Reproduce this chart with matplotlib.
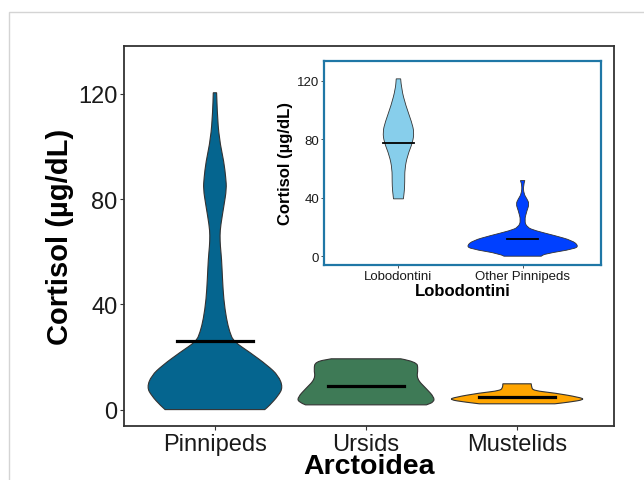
import matplotlib.pyplot as plt
import numpy as np
from matplotlib.path import Path
from matplotlib.patches import PathPatch, Rectangle

plt.rcParams['font.family'] = ['Liberation Sans', 'DejaVu Sans']

# main panel: violin outlines as (cortisol level, half width) profiles
groups = ['Pinnipeds', 'Ursids', 'Mustelids']
colors = ['#05658f', '#3e7a56', '#ffa500']
medians = [25.9, 8.9, 4.8]

pinn_y = [0, 1.5, 5.3, 8.5, 12.9, 16.7, 21.8, 25.9, 29.4, 34.5, 42, 49.7, 57.3,
          62, 66.2, 70, 77.6, 83.9, 88, 94, 103, 113, 120.4]
pinn_w = [0.33, 0.36, 0.42, 0.45, 0.42, 0.35, 0.23, 0.124, 0.098, 0.076, 0.058, 0.05, 0.044,
          0.036, 0.033, 0.038, 0.06, 0.077, 0.072, 0.06, 0.028, 0.015, 0.011]
urs_y = [1.8, 2.9, 4.8, 7.9, 11.7, 15.5, 18.2, 19.3]
urs_w = [0.40, 0.45, 0.45, 0.40, 0.335, 0.345, 0.335, 0.23]
must_y = [2.2, 2.8, 3.8, 4.7, 6.3, 7.2, 8.5, 9.8]
must_w = [0.25, 0.34, 0.45, 0.41, 0.25, 0.11, 0.095, 0.094]
profiles = [(pinn_y, pinn_w), (urs_y, urs_w), (must_y, must_w)]

# inset panel
sub_groups = ['Lobodontini', 'Other Pinnipeds']
sub_colors = ['#87ceeb', '#0040ff']
sub_medians = [77.4, 11.6]
lobo_y = [39.2, 45, 50.6, 59.7, 68.8, 77.9, 84.8, 91.6, 103, 114.4, 121.2]
lobo_w = [0.04, 0.048, 0.051, 0.051, 0.073, 0.115, 0.126, 0.107, 0.059, 0.024, 0.018]
oth_y = [0, 1.6, 5, 7.2, 10.7, 14.1, 17.5, 19.8, 24.3, 31.2, 35.7, 39.2, 42.6, 48.3, 51.7]
oth_w = [0.15, 0.18, 0.42, 0.45, 0.4, 0.26, 0.1, 0.035, 0.014, 0.035, 0.054, 0.035, 0.01, 0.005, 0.018]
sub_profiles = [(lobo_y, lobo_w), (oth_y, oth_w)]


def smooth_side(pts):
    # quadratic bezier through midpoints, keeps end points
    verts, codes = [], []
    verts.append((pts[0] + pts[1]) / 2); codes.append(Path.LINETO)
    for i in range(1, len(pts) - 1):
        verts.append(pts[i]); codes.append(Path.CURVE3)
        end = pts[i + 1] if i == len(pts) - 2 else (pts[i] + pts[i + 1]) / 2
        verts.append(end); codes.append(Path.CURVE3)
    return verts, codes


def violin(ax, pos, y, w, color, lw=0.8):
    y = np.asarray(y, float)
    w = np.asarray(w, float)
    right = np.column_stack([pos + w, y])
    left = np.column_stack([pos - w, y])[::-1]
    verts = [left[-1], right[0]]
    codes = [Path.MOVETO, Path.LINETO]
    v, c = smooth_side(right)
    verts += v; codes += c
    verts.append(left[0]); codes.append(Path.LINETO)
    v, c = smooth_side(left)
    verts += v; codes += c
    verts.append(left[-1]); codes.append(Path.CLOSEPOLY)
    ax.add_patch(PathPatch(Path(verts, codes), facecolor=color,
                           edgecolor='#333333', lw=lw, zorder=2))


fig = plt.figure(figsize=(6.44, 4.81), dpi=100)
fig.patches.append(Rectangle((9 / 644, -0.1), 1.2, 1.1 - 13 / 481, transform=fig.transFigure,
                             fill=False, edgecolor='#d4d4d4', lw=1))

ax = fig.add_axes([0.193, 0.113, 0.760, 0.790])
for i, (y, w) in enumerate(profiles):
    violin(ax, i + 1, y, w, colors[i])
    ax.plot([i + 1 - 0.25, i + 1 + 0.25], [medians[i]] * 2, color='black', lw=2.3, zorder=3)
ax.set_xlim(0.4, 3.64)
ax.set_ylim(-6.1, 138.3)
ax.set_xticks([1, 2, 3])
ax.set_xticklabels(groups)
ax.set_yticks([0, 40, 80, 120])
ax.tick_params(length=3, width=0.8, color='#333333', labelsize=17, pad=2, labelcolor='#1a1a1a')
for s in ax.spines.values():
    s.set_color('#333333')
    s.set_linewidth(1.3)
ax.set_xlabel('Arctoidea', fontsize=20.5, fontweight='bold', labelpad=-1.5)
ax.set_ylabel('Cortisol (µg/dL)', fontsize=21, fontweight='bold', labelpad=3)

axins = fig.add_axes([0.503, 0.447, 0.430, 0.425])
for i, (y, w) in enumerate(sub_profiles):
    violin(axins, i + 1, y, w, sub_colors[i], lw=0.6)
    axins.plot([i + 1 - 0.125, i + 1 + 0.125], [sub_medians[i]] * 2, color='black', lw=1.3, zorder=3)
axins.set_xlim(0.4, 2.63)
axins.set_ylim(-6, 133.7)
axins.set_xticks([1, 2])
axins.set_xticklabels(sub_groups)
axins.set_yticks([0, 40, 80, 120])
axins.tick_params(length=2, width=0.6, color='#333333', labelsize=9.5, pad=1.5, labelcolor='#1a1a1a')
for s in axins.spines.values():
    s.set_color('#1f77a6')
    s.set_linewidth(1.6)
axins.set_xlabel('Lobodontini', fontsize=12, fontweight='bold', labelpad=1)
axins.set_ylabel('Cortisol (µg/dL)', fontsize=12, fontweight='bold', labelpad=3)

fig.savefig('out.png', dpi=100)
